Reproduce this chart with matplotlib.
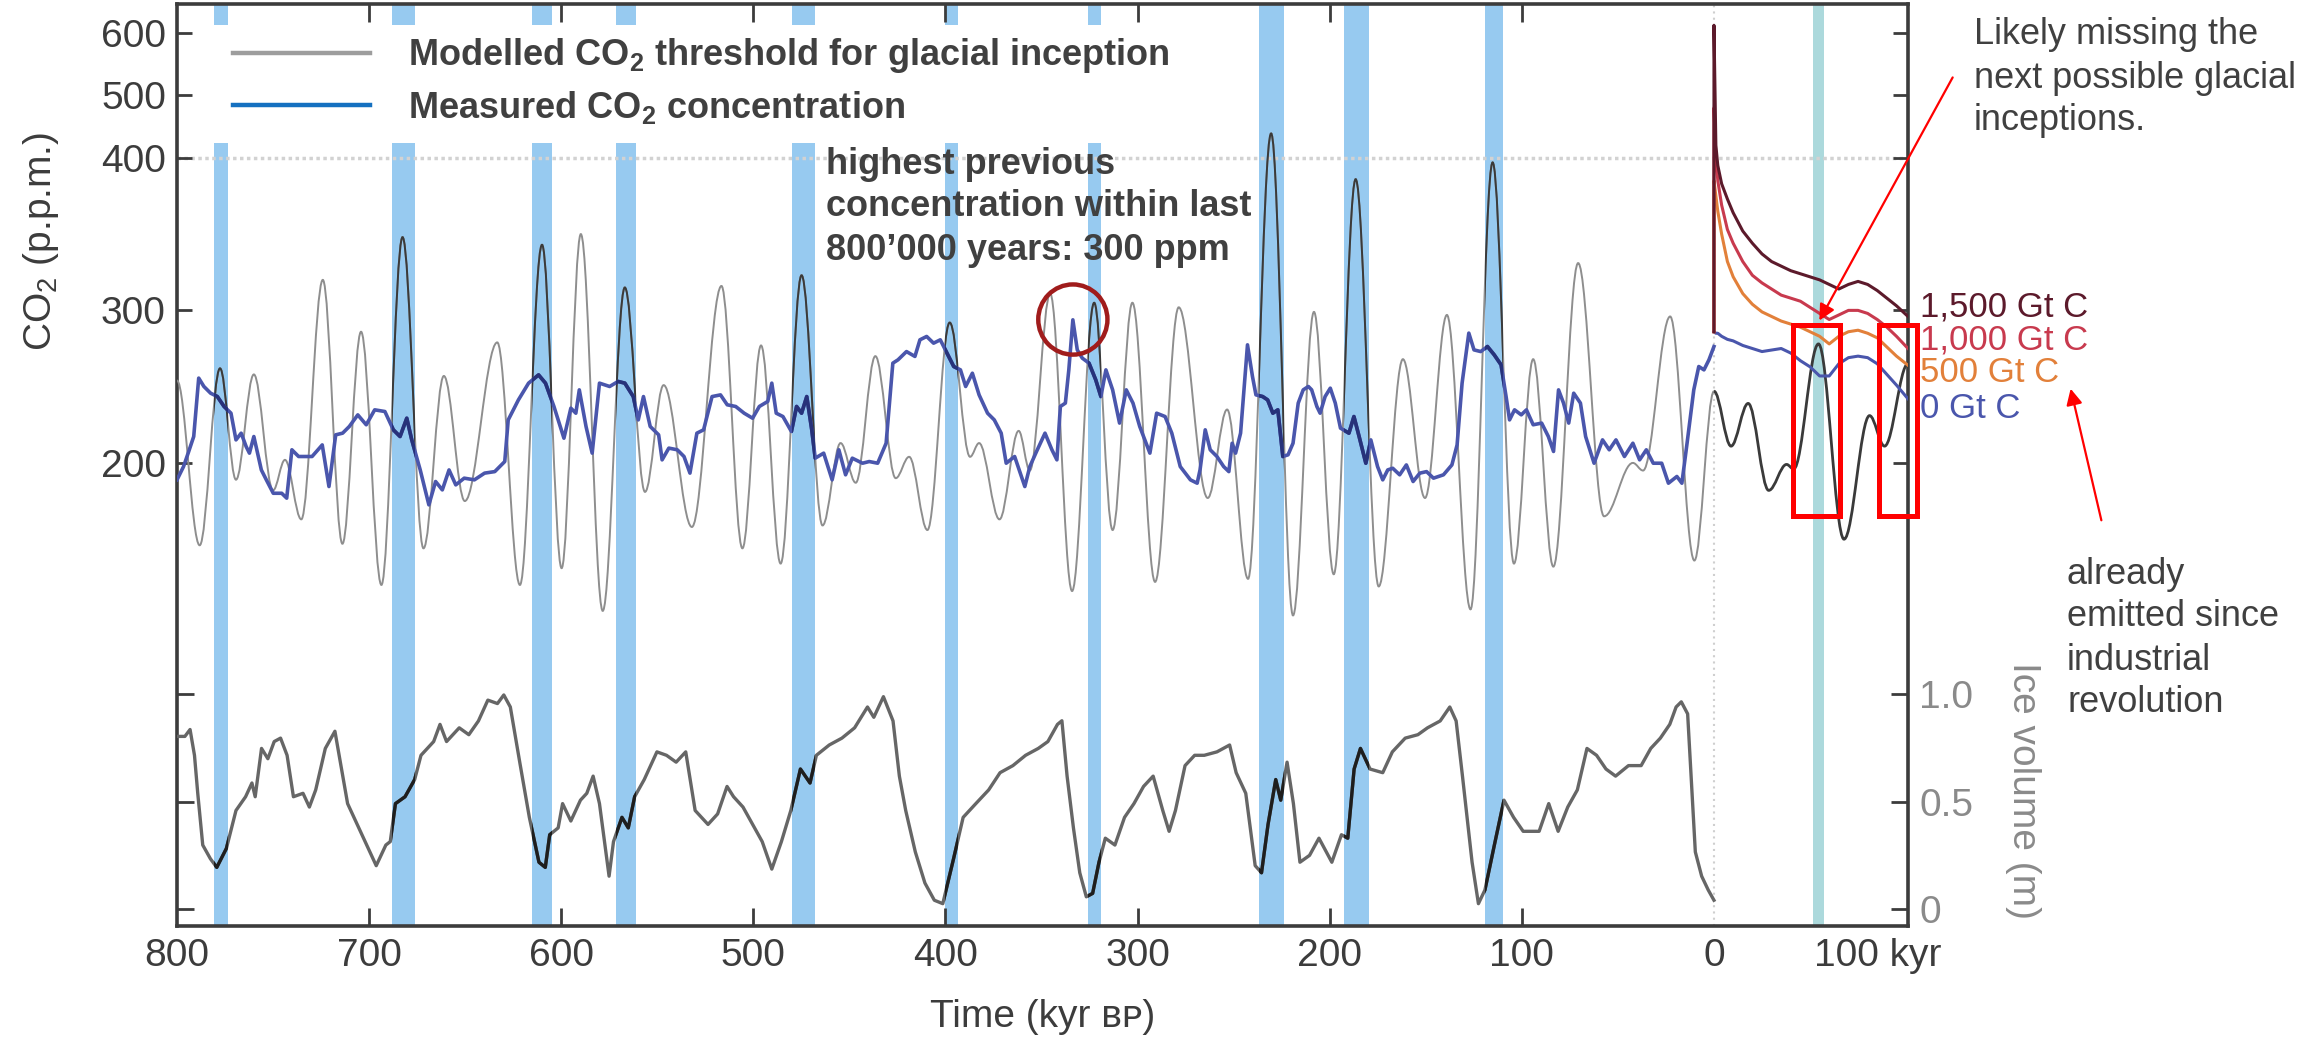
import numpy as np
import matplotlib
matplotlib.use('Agg')
import matplotlib.pyplot as plt
import matplotlib.transforms as mtransforms
from matplotlib.path import Path
from matplotlib.patches import PathPatch, Rectangle, Ellipse, FancyArrowPatch
from matplotlib.lines import Line2D
from matplotlib.ticker import NullLocator

plt.rcParams['font.family'] = ['Liberation Sans', 'DejaVu Sans']
plt.rcParams['mathtext.default'] = 'regular'

##### values, time in kyr BP (future = negative)

# glacial terminations (blue bands) and the next possible inception (teal)
term_lo = [773.5, 676.0, 605.0, 561.0, 468.0, 393.5, 319.0, 224.0, 179.5, 110.0]
term_hi = [780.7, 688.0, 615.0, 571.5, 480.0, 400.5, 326.0, 237.0, 192.5, 119.0]
next_lo, next_hi = -57.5, -51.5

# modelled CO2 threshold for glacial inception (turning points)
thr_kyr = [800, 788.2, 777.6, 769.3, 760.0, 750.0, 743.8, 735.3, 724.1, 713.9,
           704.2, 693.6, 682.6, 671.7, 661.1, 650.2, 633.3, 621.5, 610.0, 599.8,
           589.8, 578.4, 566.9, 556.4, 546.7, 532.0, 516.6, 505.7, 496.0, 485.8,
           474.9, 464.0, 454.6, 446.7, 436.5, 425.9, 418.9, 409.4, 397.8, 387.2,
           382.5, 371.9, 361.9, 356.1, 345.5, 334.1, 322.6, 313.0, 302.7, 290.9,
           278.6, 263.5, 253.4, 242.5, 230.5, 219.1, 208.2, 197.9, 186.5, 174.5,
           161.9, 150.4, 139.0, 126.7, 115.2, 104.1, 94.1, 83.6, 70.7, 57.2,
           42.2, 36.9, 22.8, 10.2, 0, -8.9, -17.8, -28.5, -37.8, -41.5,
           -54.4, -67.7, -81.0, -88.8, -101]
thr_ppm = [254, 146, 262, 189, 258, 182, 202, 163, 320, 147,
           286, 120, 348, 144, 257, 175, 279, 120, 343, 131,
           350, 103, 315, 181, 251, 158, 316, 144, 277, 134,
           323, 159, 213, 187, 270, 190, 204, 156, 292, 204,
           213, 163, 221, 195, 311, 116, 305, 156, 305, 122,
           302, 177, 235, 124, 439, 100, 299, 127, 386, 119,
           268, 177, 297, 104, 397, 134, 268, 132, 331, 165,
           200, 195, 296, 136, 247, 211, 239, 182, 199, 196,
           278, 150, 231, 211, 265]

# measured CO2 concentration
co2_kyr = [800.0, 796.6, 793.9, 791.3, 788.7, 786.0, 782.5, 779.0, 775.5, 771.9,
           769.3, 766.6, 764.0, 762.3, 760.0, 756.1, 753.5, 749.9, 745.5, 742.9,
           740.2, 736.7, 729.7, 724.4, 720.9, 717.4, 713.8, 710.3, 705.9, 701.5,
           697.1, 691.8, 687.4, 683.9, 680.4, 677.8, 673.4, 668.9, 665.4, 661.9,
           658.4, 654.9, 650.5, 645.2, 639.9, 634.6, 629.4, 627.6, 622.3, 617.0,
           611.8, 608.2, 603.8, 598.6, 595.0, 592.4, 590.6, 587.1, 583.9, 580.1,
           574.8, 570.4, 566.9, 562.5, 559.9, 557.2, 553.7, 549.3, 547.5, 544.0,
           539.6, 536.1, 533.0, 529.4, 525.9, 521.5, 517.1, 513.6, 509.2, 504.8,
           500.4, 496.9, 492.5, 490.4, 488.1, 484.6, 480.2, 477.5, 474.9, 472.2,
           469.6, 467.8, 463.4, 459.0, 455.5, 452.0, 448.5, 443.2, 439.7, 435.3,
           430.9, 427.4, 424.7, 420.3, 415.9, 413.3, 409.8, 406.2, 402.7, 399.2,
           395.7, 392.2, 389.5, 386.0, 382.5, 378.1, 374.6, 371.0, 368.4, 364.0,
           358.7, 356.1, 352.6, 348.2, 344.6, 342.0, 340.2, 337.6, 335.8, 333.7,
           331.4, 328.8, 325.3, 321.8, 319.1, 316.5, 313.0, 309.4, 305.9, 302.4,
           298.9, 293.6, 290.1, 285.7, 282.2, 277.8, 272.5, 269.0, 267.5, 264.8,
           262.2, 258.7, 255.2, 252.5, 250.8, 249.0, 246.4, 242.8, 240.2, 238.4,
           234.9, 232.3, 229.6, 227.0, 224.4, 221.7, 219.1, 216.4, 213.8, 211.1,
           209.4, 206.7, 205.0, 202.4, 199.7, 197.1, 194.4, 190.0, 187.4, 184.7,
           181.2, 178.6, 175.1, 172.4, 169.8, 167.2, 163.6, 160.1, 156.6, 153.1,
           149.6, 146.0, 140.8, 136.4, 133.7, 131.1, 127.6, 124.9, 121.4, 117.9,
           114.4, 110.8, 108.2, 106.4, 103.8, 100.3, 97.6, 94.1, 89.7, 86.2,
           83.5, 80.9, 78.3, 75.6, 73.0, 69.5, 66.8, 62.4, 58.0, 54.5,
           51.0, 46.6, 42.2, 38.7, 35.2, 31.6, 27.2, 23.7, 19.3, 16.7,
           14.0, 10.5, 7.9, 5.2, 2.6, 0.0]
co2_ppm = [188.9, 197.6, 207.5, 217.3, 255.6, 250.1, 245.7, 243.5, 237.0, 232.6,
           215.1, 219.5, 210.7, 206.4, 217.3, 195.4, 188.9, 180.1, 180.1, 176.9,
           208.6, 204.2, 204.2, 211.8, 184.5, 218.4, 219.5, 223.9, 231.5, 225.0,
           234.8, 233.7, 221.7, 217.3, 229.3, 215.1, 195.4, 172.5, 187.8, 182.3,
           195.4, 185.6, 190.0, 188.9, 193.3, 194.3, 200.9, 228.2, 241.3, 252.3,
           257.7, 252.3, 237.0, 216.2, 235.9, 232.6, 247.9, 223.9, 206.4, 252.3,
           250.1, 253.4, 252.3, 243.5, 228.2, 243.5, 223.9, 218.4, 202.0, 209.7,
           208.6, 204.2, 193.3, 219.5, 221.7, 243.5, 244.6, 238.1, 237.0, 232.6,
           229.3, 237.0, 240.3, 252.3, 232.6, 230.4, 220.6, 237.0, 232.6, 243.5,
           221.7, 203.1, 206.4, 188.9, 208.6, 192.2, 203.1, 199.8, 200.9, 199.8,
           212.9, 265.4, 267.6, 273.0, 269.8, 280.7, 282.9, 278.5, 280.7, 271.9,
           263.2, 261.0, 250.1, 258.8, 244.6, 232.6, 228.2, 219.5, 199.8, 204.2,
           184.5, 197.6, 207.5, 219.5, 208.6, 202.0, 237.0, 239.2, 261.0, 293.8,
           274.1, 268.7, 265.4, 254.5, 243.5, 261.0, 247.9, 226.1, 247.9, 239.2,
           223.9, 206.4, 232.6, 230.4, 219.5, 197.6, 188.9, 186.7, 195.4, 221.7,
           208.6, 204.2, 197.6, 194.3, 212.9, 206.4, 219.5, 277.4, 256.6, 244.6,
           243.5, 241.3, 232.6, 234.8, 204.2, 205.3, 212.9, 239.2, 247.9, 250.1,
           247.9, 237.0, 232.6, 243.5, 249.0, 239.2, 222.8, 219.5, 230.4, 217.3,
           199.8, 215.1, 197.6, 188.9, 195.4, 196.5, 192.2, 198.7, 187.8, 193.3,
           194.3, 190.0, 192.2, 198.7, 211.8, 252.3, 285.1, 274.1, 273.0, 276.3,
           270.9, 264.3, 243.5, 228.2, 234.8, 231.5, 234.8, 225.0, 226.1, 217.3,
           207.5, 247.9, 239.2, 226.1, 245.7, 239.2, 217.3, 199.8, 215.1, 208.6,
           215.1, 204.2, 212.9, 202.0, 208.6, 199.8, 199.8, 186.7, 191.1, 186.7,
           212.9, 247.9, 263.2, 261.0, 267.6, 276.3]

# ice volume (m)
ice_kyr = [800.2, 795.9, 793.2, 790.9, 789.2, 786.6, 782.6, 779.3, 774.3, 769.3,
           764.3, 761.0, 759.3, 756.0, 752.7, 749.4, 746.1, 742.7, 739.4, 734.4,
           731.1, 727.8, 722.8, 717.8, 711.2, 706.2, 701.2, 696.3, 691.3, 689.0,
           686.3, 681.3, 676.3, 673.0, 666.4, 663.1, 659.7, 653.1, 648.1, 643.1,
           638.2, 633.2, 629.9, 626.5, 621.6, 616.6, 611.6, 608.3, 606.0, 601.6,
           599.3, 595.0, 590.0, 586.7, 583.4, 580.1, 575.1, 572.8, 568.4, 565.1,
           561.8, 556.8, 550.2, 545.2, 540.2, 535.2, 530.3, 523.6, 518.6, 513.7,
           510.3, 505.4, 500.4, 495.4, 490.4, 485.4, 480.5, 475.5, 470.5, 467.2,
           460.5, 453.9, 447.3, 440.6, 437.3, 432.3, 427.3, 424.0, 420.7, 415.7,
           410.7, 405.8, 401.4, 395.8, 390.8, 384.2, 377.5, 371.6, 364.9, 358.3,
           351.7, 346.7, 341.7, 339.4, 336.7, 333.4, 330.1, 326.7, 323.4, 320.1,
           316.8, 311.8, 306.8, 301.9, 296.9, 291.9, 286.9, 283.6, 280.3, 275.3,
           270.3, 265.3, 258.7, 252.1, 248.7, 243.7, 238.8, 235.5, 232.1, 228.1,
           225.5, 222.2, 218.9, 215.5, 210.5, 205.6, 198.9, 193.9, 190.6, 187.3,
           184.0, 179.0, 172.4, 167.4, 160.7, 154.1, 149.1, 142.5, 137.5, 134.2,
           130.9, 125.9, 122.6, 119.2, 114.3, 109.3, 104.3, 99.3, 94.3, 91.0,
           86.0, 81.1, 76.1, 71.1, 66.1, 61.1, 56.2, 51.2, 44.5, 37.9,
           32.9, 27.9, 23.0, 19.7, 17.0, 13.7, 9.7, 6.4, 3.0, 0.0]
ice_m = [0.804, 0.804, 0.836, 0.716, 0.539, 0.298, 0.234, 0.194, 0.282, 0.459,
         0.523, 0.587, 0.523, 0.748, 0.700, 0.780, 0.796, 0.716, 0.523, 0.539,
         0.475, 0.555, 0.748, 0.828, 0.491, 0.394, 0.298, 0.202, 0.298, 0.314,
         0.491, 0.523, 0.603, 0.716, 0.780, 0.860, 0.780, 0.844, 0.812, 0.876,
         0.973, 0.957, 0.997, 0.941, 0.684, 0.427, 0.218, 0.194, 0.346, 0.378,
         0.491, 0.410, 0.507, 0.539, 0.619, 0.491, 0.153, 0.314, 0.427, 0.378,
         0.523, 0.603, 0.732, 0.716, 0.684, 0.732, 0.459, 0.394, 0.443, 0.571,
         0.523, 0.475, 0.394, 0.314, 0.186, 0.314, 0.459, 0.652, 0.587, 0.716,
         0.764, 0.796, 0.844, 0.941, 0.893, 0.989, 0.876, 0.619, 0.459, 0.266,
         0.121, 0.041, 0.025, 0.234, 0.427, 0.491, 0.555, 0.635, 0.668, 0.716,
         0.748, 0.780, 0.860, 0.877, 0.619, 0.378, 0.169, 0.057, 0.073, 0.218,
         0.330, 0.298, 0.427, 0.491, 0.571, 0.619, 0.459, 0.362, 0.459, 0.668,
         0.716, 0.716, 0.732, 0.764, 0.635, 0.539, 0.202, 0.169, 0.394, 0.603,
         0.507, 0.684, 0.491, 0.218, 0.250, 0.330, 0.218, 0.346, 0.330, 0.652,
         0.748, 0.652, 0.635, 0.732, 0.796, 0.812, 0.844, 0.876, 0.941, 0.876,
         0.619, 0.218, 0.025, 0.089, 0.298, 0.507, 0.427, 0.362, 0.362, 0.362,
         0.491, 0.362, 0.475, 0.555, 0.748, 0.716, 0.652, 0.619, 0.668, 0.668,
         0.748, 0.796, 0.860, 0.941, 0.965, 0.909, 0.266, 0.153, 0.089, 0.041]

# future CO2 after emission pulses (kyr from now, negative = after present)
fut_kyr = [0, 0, -1, -2, -4, -7, -10, -15, -20, -25, -30, -35, -40, -45, -50,
           -55, -60, -65, -70, -75, -80, -85, -90, -95, -101]
fut_0 = [286, 286, 285, 285, 283, 281, 280, 277, 275, 273, 274, 275, 272, 267, 263,
         257, 257, 265, 269, 270, 269, 265, 258, 251, 242]
fut_500 = [286, 385, 375, 365, 350, 332, 322, 311, 304, 299, 296, 293, 291, 289, 286,
           283, 278, 283, 286, 287, 285, 282, 276, 270, 264]
fut_1000 = [286, 480, 400, 385, 369, 353, 344, 332, 323, 318, 314, 310, 308, 306, 302,
            298, 294, 297, 300, 300, 298, 294, 289, 283, 275]
fut_1500 = [286, 612, 420, 395, 383, 373, 364, 352, 344, 337, 332, 329, 326, 324, 322,
            320, 317, 314, 317, 319, 317, 313, 308, 303, 296]
fut_names = ['0 Gt C', '500 Gt C', '1,000 Gt C', '1,500 Gt C']

co2_ticks = [200, 300, 400, 500, 600]
ice_ticks = [0, 0.5, 1.0]
ice_labels = ['0', '0.5', '1.0']
x_ticks = [800, 700, 600, 500, 400, 300, 200, 100, 0, -85.4]
x_labels = ['800', '700', '600', '500', '400', '300', '200', '100', '0', '100 kyr']

#####

W, H = 2318, 1041
fig = plt.figure(figsize=(W / 100, H / 100), dpi=100)
ax = fig.add_axes([177 / W, 1 - 926 / H, (1908 - 177) / W, (926 - 4) / H])
ax2 = ax.twinx()

dark = '#3c3c3c'
txt = '#404040'
c_blue = '#4a56ac'
fut_cols = [c_blue, '#e2803a', '#c83a4e', '#5c1a2b']


# CO2 axis is compressed above 400 ppm
def fwd(v):
    v = np.asarray(v, dtype=float)
    return np.where(v <= 400, v, 400 + (v - 400) * 0.41)


def inv(v):
    v = np.asarray(v, dtype=float)
    return np.where(v <= 400, v, 400 + (v - 400) / 0.41)


ax.set_yscale('function', functions=(fwd, inv))
ax.set_xlim(800, -101)
ax.set_ylim(-103.6, 646)
ax2.set_ylim(-0.079, 4.215)


def smooth_path(xs, ys, k=0.36):
    verts = [(xs[0], ys[0])]
    codes = [Path.MOVETO]
    for x0, y0, x1, y1 in zip(xs[:-1], ys[:-1], xs[1:], ys[1:]):
        dx = x1 - x0
        verts += [(x0 + k * dx, y0), (x1 - k * dx, y1), (x1, y1)]
        codes += [Path.CURVE4] * 3
    return Path(verts, codes)


# bands
for lo, hi in zip(term_lo, term_hi):
    ax.axvspan(lo, hi, color='#97caf0', lw=0, zorder=0.5)
ax.axvspan(next_lo, next_hi, color='#acd9dc', lw=0, zorder=0.5)
band_clip = Path.make_compound_path(*[Path([(lo, 0), (hi, 0), (hi, 1), (lo, 1), (lo, 0)], closed=True)
                                      for lo, hi in zip(term_lo, term_hi)])
band_tr = mtransforms.blended_transform_factory(ax.transData, ax.transAxes)

ax.axhline(400, color='#d2d2d2', ls=(0, (1, 1)), lw=2.5, zorder=1.2)
ax.axvline(0, color='#cfcfcf', ls=(0, (1, 2)), lw=1.5, zorder=1.2)

# threshold
tk = np.array(thr_kyr)
tp = np.array(thr_ppm)
past = tk >= 0
futr = tk <= 0
ax.add_patch(PathPatch(smooth_path(tk[past], tp[past]), fill=False, ec='#8e8e8e', lw=1.4, zorder=3))
p = ax.add_patch(PathPatch(smooth_path(tk[past], tp[past]), fill=False, ec='#3a3a3a', lw=1.4, zorder=3.1))
p.set_clip_path(band_clip, band_tr)
ax.add_patch(PathPatch(smooth_path(tk[futr], tp[futr]), fill=False, ec='#3a3a3a', lw=2.0, zorder=3))

# measured CO2
ax.plot(co2_kyr, co2_ppm, color=c_blue, lw=2.6, zorder=4)
l, = ax.plot(co2_kyr, co2_ppm, color='#27327a', lw=2.6, zorder=4.1)
l.set_clip_path(band_clip, band_tr)

# future scenarios
for vals, col in zip([fut_0, fut_500, fut_1000, fut_1500], fut_cols):
    ax.plot(fut_kyr, vals, color=col, lw=2.2, zorder=4)

# ice volume
ax2.plot(ice_kyr, ice_m, color='#666666', lw=2.4, zorder=3)
l, = ax2.plot(ice_kyr, ice_m, color='#1e1e1e', lw=2.4, zorder=3.1)
l.set_clip_path(band_clip, band_tr)

# axes styling
for s in ax.spines.values():
    s.set_color(dark)
    s.set_linewidth(2.6)
for s in ax2.spines.values():
    s.set_visible(False)

ax.set_yticks(co2_ticks)
ax.set_yticklabels([str(v) for v in co2_ticks])
ax.yaxis.set_minor_locator(NullLocator())
ax.tick_params(axis='y', which='major', direction='in', left=True, right=True,
               labelleft=True, labelright=False, length=11, width=2, color=dark,
               labelsize=28, labelcolor=dark, pad=8)
ax.set_xticks(x_ticks)
ax.set_xticklabels(x_labels)
ax.xaxis.set_minor_locator(NullLocator())
ax.tick_params(axis='x', direction='in', top=True, bottom=True, length=13, width=2,
               color=dark, labelsize=28, labelcolor=dark, pad=9)
for t, v in zip(ax.xaxis.get_major_ticks(), x_ticks):
    if v in (800, 0, -85.4):
        t.tick1line.set_visible(False)
        t.tick2line.set_visible(False)

ax2.set_yticks(ice_ticks)
ax2.set_yticklabels(ice_labels)
ax2.yaxis.set_minor_locator(NullLocator())
ax2.tick_params(axis='y', direction='in', left=True, right=True, labelleft=False,
                labelright=True, length=12, width=2, color=dark, labelsize=28,
                labelcolor='#8a8a8a', pad=8)
for t in ax2.yaxis.get_major_ticks():
    t.tick1line.set_color('#b4b4b4')

# legend on a white patch
ax.add_patch(Rectangle((0.0133, 0.849), 0.595, 0.128, transform=ax.transAxes,
                       fc='white', ec='none', zorder=2))
handles = [Line2D([], [], color='#9d9d9d', lw=3.2), Line2D([], [], color='#1570c0', lw=3.2)]
leg = ax.legend(handles, ['Modelled CO$_2$ threshold for glacial inception', 'Measured CO$_2$ concentration'],
                loc='upper left', bbox_to_anchor=(0.0324, 0.965), frameon=False,
                borderpad=0, borderaxespad=0, handlelength=3.8, handletextpad=1.05,
                labelspacing=0.38, prop={'weight': 'bold', 'size': 26})
for t in leg.get_texts():
    t.set_color(txt)
leg.set_zorder(6)

# highlight marks
ax.add_patch(Ellipse((333.7, 294), 36, 46, fill=False, ec='#a01c1c', lw=3.2, zorder=8))
for lo, hi in [(-41.1, -65.6), (-85.9, -105.7)]:
    ax.add_patch(Rectangle((lo, 165.2), hi - lo, 290.5 - 165.2, fill=False, ec='#ff0000',
                           lw=3.6, zorder=10, clip_on=False))

# labels
fig.text(41 / W, 1 - 241 / H, 'CO$_2$ (p.p.m.)', rotation=90, ha='center', va='center',
         size=28, color=dark)
fig.text(2023 / W, 1 - 790 / H, 'Ice volume (m)', rotation=270, ha='center', va='center',
         size=28, color='#8a8a8a')
fig.text(1043 / W, 1 - 1017 / H, 'Time (kyr \u0299\u1d18)', ha='center', va='center',
         size=28, color=dark)


def put_lines(lines, x, ys, **kw):
    for s, y in zip(lines, ys):
        fig.text(x / W, 1 - y / H, s, ha='left', va='center', **kw)


put_lines(['highest previous', 'concentration within last', '800\u2019000 years: 300 ppm'],
          826, [164, 207, 251], size=26, weight='bold', color=txt)
put_lines(['Likely missing the', 'next possible glacial', 'inceptions.'],
          1974, [35, 78, 120], size=26, color=txt)
put_lines(['already', 'emitted since', 'industrial', 'revolution'],
          2067, [575, 617, 660, 703], size=26, color=txt)
for name, col, y in zip(fut_names, fut_cols, [408, 373, 340, 307]):
    fig.text(1920 / W, 1 - y / H, name, ha='left', va='center', size=25, color=col)

for (x0, y0), (x1, y1) in [((1954, 75), (1818, 323)), ((2102, 523), (2070, 386))]:
    fig.add_artist(FancyArrowPatch((x0 / W, 1 - y0 / H), (x1 / W, 1 - y1 / H),
                                   transform=fig.transFigure, arrowstyle='-|>',
                                   mutation_scale=24, color='#ff0000', lw=1.6))

fig.savefig('out.png', dpi=100)
